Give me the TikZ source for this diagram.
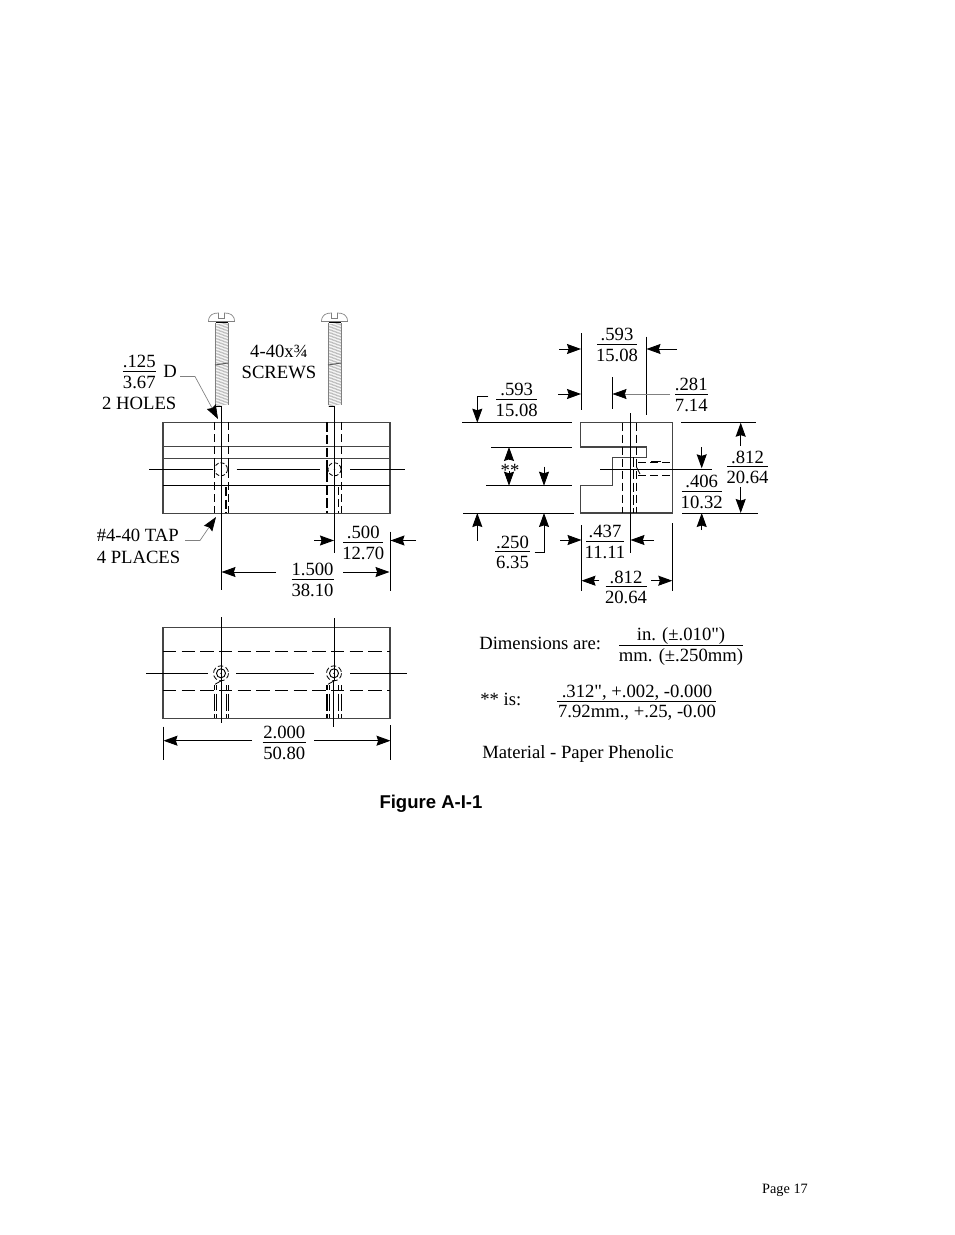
\documentclass[tikz,border=0pt]{standalone}
\usepackage{fontspec}
\setmainfont{Liberation Serif}[Ligatures=TeXOff]
\newfontfamily\figfont{Liberation Sans}
\usetikzlibrary{calc,arrows.meta}
\definecolor{outline}{gray}{0.27}
\definecolor{leader}{gray}{0.5}

\begin{document}
\begin{tikzpicture}[x=0.75pt,y=-0.75pt]

\tikzset{dimline/.style={line width=0.7pt},
dimarrow/.style={line width=0.7pt,-{Stealth[length=10.5pt,width=7.5pt,inset=1.2pt]}},
leadarrow/.style={line width=0.5pt,color=leader,-{Stealth[length=10.5pt,width=7.5pt,inset=1.2pt,color=black]}},
partline/.style={line width=1.1pt,color=outline},
hidden/.style={line width=0.7pt,dash pattern=on 6pt off 3pt},
hiddenthick/.style={line width=1.2pt,dash pattern=on 7pt off 2.5pt},
stub/.style={line width=0.7pt,dash pattern=on 4pt off 2.5pt on 13pt off 2.5pt on 4pt off 9pt},
txt/.style={font=\fontsize{14pt}{16pt}\selectfont,inner sep=0pt,anchor=base},
txtleft/.style={txt,anchor=base west}}

\fill[white] (0,0) rectangle (954,1235);
\useasboundingbox (0,0) rectangle (954,1235);

\coordinate (holeA) at (221,469.3);
\coordinate (holeB) at (334.5,469.3);
\coordinate (lowA) at (221,673.3);
\coordinate (lowB) at (334,673.3);

% Screws
\foreach \sx/\sn in {221.5/A,334.5/B} {
  \foreach \y in {324,325.5,...,405} \draw[line width=0.3pt,color=black!42] (\sx-6.5,\y+1.2) -- (\sx+6.5,\y-1.2);
  \draw[line width=0.4pt,color=black!50] (\sx-6.5,323) -- (\sx-6.5,405) (\sx+6.5,323) -- (\sx+6.5,405);
  \draw[line width=0.7pt,color=black!65] (\sx-6.5,365) -- (\sx+6.5,363);
  \draw[line width=0.5pt,color=leader] (\sx-13,321.5) .. controls (\sx-13,314.5) and (\sx-8,313) .. (\sx-3,313) -- (\sx-3,318.5) -- (\sx+3,318.5) -- (\sx+3,313) .. controls (\sx+8,313) and (\sx+13,314.5) .. (\sx+13,321.5) -- cycle;
  \draw[line width=1pt] (\sx-6,322.3) -- (\sx+6,322.3);
  \draw[dimline] (\sx-6,406.5) -- (\sx,406.5);
}

% Top view
\draw[partline] (163,422.3) rectangle (390,513.3);
\draw[partline] (163,446.7) -- (390,446.7);
\draw[partline] (163,458.3) -- (390,458.3);
\draw[partline,color=black] (163,485.3) -- (390,485.3);
\foreach \hx in {214.3,228.3,341.7} \draw[hidden] (\hx,422.3) -- (\hx,513.3);
\draw[hiddenthick] (327,422.3) -- (327,513.3);
\draw[hiddenthick] (225.7,487) -- (225.7,513.3);
\draw[hidden] (338.3,487) -- (338.3,513.3);
\foreach \hx in {214.3,228.3,327,341.7} \draw[line width=1pt] (\hx,461) -- (\hx,477);
\foreach \c in {holeA,holeB} \draw[line width=0.6pt,dash pattern=on 3pt off 1.5pt] (\c) circle (6.5);
\fill (holeB) circle (0.8);

% Centre lines
\draw[dimline] (221,406.5) -- (221,590);
\draw[dimline] (334.5,406.5) -- (334.5,553);
\draw[dimline] (390.5,531.7) -- (390.5,590.5);
\draw[dimline] (149,469.3) -- (213,469.3);
\draw[dimline] (236.5,469.3) -- (320,469.3);
\draw[dimline] (350,469.3) -- (405,469.3);

% Bottom view
\draw[partline] (163,627.3) rectangle (390,718.3);
\draw[hidden,dash pattern=on 10pt off 4pt] (163,651.3) -- (390,651.3);
\draw[hidden,dash pattern=on 10pt off 4pt] (163,690.3) -- (390,690.3);
\draw[dimline] (221,617.3) -- (221,723);
\draw[dimline] (334.3,618) -- (334.3,680);
\draw[dimline] (333.3,680) -- (333.3,726.7);
\draw[dimline] (146,673.3) -- (208,673.3);
\draw[dimline] (236,673.3) -- (314,673.3);
\draw[dimline] (350,673.3) -- (406.5,673.3);
\foreach \c in {lowA,lowB} {
  \draw[line width=0.7pt] (\c) circle (4.5);
  \draw[line width=0.6pt,dash pattern=on 4pt off 2pt] (\c) circle (7.5);
  \fill (\c) circle (0.8);
  \draw[line width=0.6pt] ($(\c)+(-6,11)$) -- ($(\c)+(1,7)$);
}
\foreach \hx in {214.5,216.8,226.3,228.3,329.3,338.7,341.7} \draw[stub] (\hx,685) -- (\hx,718);
\draw[stub,line width=1.2pt] (327,685) -- (327,718);
\draw[dimline] (163.5,726.7) -- (163.5,760);
\draw[dimline] (390.5,725) -- (390.5,760);

% Side view
\draw[partline] (580.7,422.7) -- (672.7,422.7) -- (672.7,513) -- (580.7,513) -- (580.7,485.7) -- (612.3,485.7) -- (612.3,457.3) -- (646.3,457.3) -- (646.3,447) -- (580.7,447) -- cycle;
\draw[hidden] (622.3,422.7) -- (622.3,513);
\draw[hidden] (636.3,422.7) -- (636.3,513);
\draw[hiddenthick] (633.5,457.3) -- (633.5,513);
\draw[hidden] (638,462.7) -- (672.7,462.7);
\draw[hidden] (638,475.7) -- (672.7,475.7);
\draw[line width=1pt] (651,461.5) -- (661,461.5);
\draw[line width=0.6pt] (636.5,467) -- (640,474);
\draw[dimline] (630.3,413.3) -- (630.3,553.3);
\draw[dimline] (600,469.3) -- (711.5,469.3);

% Extension lines
\draw[dimline] (581.5,333) -- (581.5,410);
\draw[dimline] (646.5,336.7) -- (646.5,415);
\draw[dimline] (612.3,377.3) -- (612.3,409.3);
\draw[dimline] (462,422.7) -- (571.7,422.7);
\draw[dimline] (681,422.7) -- (755.7,422.7);
\draw[dimline] (491,447) -- (571.7,447);
\draw[dimline] (486,485.7) -- (572,485.7);
\draw[dimline] (463.3,513) -- (574.3,513);
\draw[dimline] (682,513) -- (757.7,513);
\draw[dimline] (581.5,525) -- (581.5,590.7);
\draw[dimline] (672.5,523.3) -- (672.5,590.7);

% Horizontal arrows
\foreach \xa/\xb/\y in {314/334/540.5,416/390.5/540.5,276/221.5/572,343/389.5/572,252/163.5/740.7,314/390.5/740.7,
  559/581/349,677/646.5/349,558.3/581/394,560/581.5/540,654/630.5/540,599.3/581.5/580.7,651/672.3/580.7}
  \draw[dimarrow] (\xa,\y) -- (\xb,\y);

% Vertical arrows
\foreach \x/\ya/\yb in {509/460/447,509/471/485.7,544/466.7/485.7,477.3/540.7/513,740.7/446/422.7,740.7/487.3/513,701.7/447.3/468.3,701.7/530/513}
  \draw[dimarrow] (\x,\ya) -- (\x,\yb);

% Elbows and leaders
\draw[dimarrow] (488.3,396.3) -- (477.3,396.3) -- (477.3,422.7);
\draw[dimarrow] (534.7,552.3) -- (544,552.3) -- (544,513);
\draw[leadarrow] (670,394) -- (612.5,394);
\draw[leadarrow] (180,376.5) -- (195,376.5) -- (218,419);
\draw[leadarrow] (185,540.5) -- (200,540.5) -- (216,517);

% Fractions
\foreach \nm/\cx/\ry/\len/\numa/\numb in {hole/139.3/371/16.5/.125/3.67,pitch/363.3/542/20/.500/12.70,span/312.5/579/21/1.500/38.10,
  width/284.3/742.3/21.7/2.000/50.80,topb/617/344/20/.593/15.08,topa/516.7/399/20.7/.593/15.08,step/691.3/394/16.3/.281/7.14,
  low/512.5/551.7/17.5/.250/6.35,mid/605/541/19/.437/11.11,base/626/586.7/20.5/.812/20.64,tall/747.5/466.7/20.2/.812/20.64,half/701.7/491/20/.406/10.32} {
  \draw[dimline] (\cx-\len,\ry) -- (\cx+\len,\ry);
  \node[txt] (\nm top) at (\cx,\ry-3.5) {\numa};
  \node[txt] (\nm bot) at (\cx,\ry+17) {\numb};
}
\draw[dimline] (619,645) -- (743,645);
\draw[dimline] (557,701) -- (716,701);

% Labels
\node[txt] (dlabel) at (170,377) {D};
\node[txt] (holes) at (139.3,409) {2 HOLES};
\node[txt] (size) at (279,357) {4-40x¾};
\node[txt] (screws) at (279,378) {SCREWS};
\node[txtleft] (tap) at (96.5,541) {\#4-40 TAP};
\node[txtleft] (places) at (96.5,563) {4 PLACES};
\node[txt] (stars) at (510,476) {**};
\node[txtleft] (dims) at (479,649) {Dimensions are:};
\node[txt] (inch) at (681,640) {in. (±.010")};
\node[txt] (mm) at (681,661) {mm. (±.250mm)};
\node[txtleft] (staris) at (480,705) {** is:};
\node[txt] (tolin) at (637,697) {.312", +.002, -0.000};
\node[txt] (tolmm) at (637,717) {7.92mm., +.25, -0.00};
\node[txtleft] (material) at (482,758) {Material - Paper Phenolic};
\node[inner sep=0pt,anchor=base] (figure) at (431,808) {\figfont\bfseries\fontsize{13.9pt}{16pt}\selectfont Figure A-I-1};
\node[inner sep=0pt,anchor=base] (page) at (785,1193.5) {\fontsize{10.7pt}{12pt}\selectfont Page 17};

\end{tikzpicture}
\end{document}
